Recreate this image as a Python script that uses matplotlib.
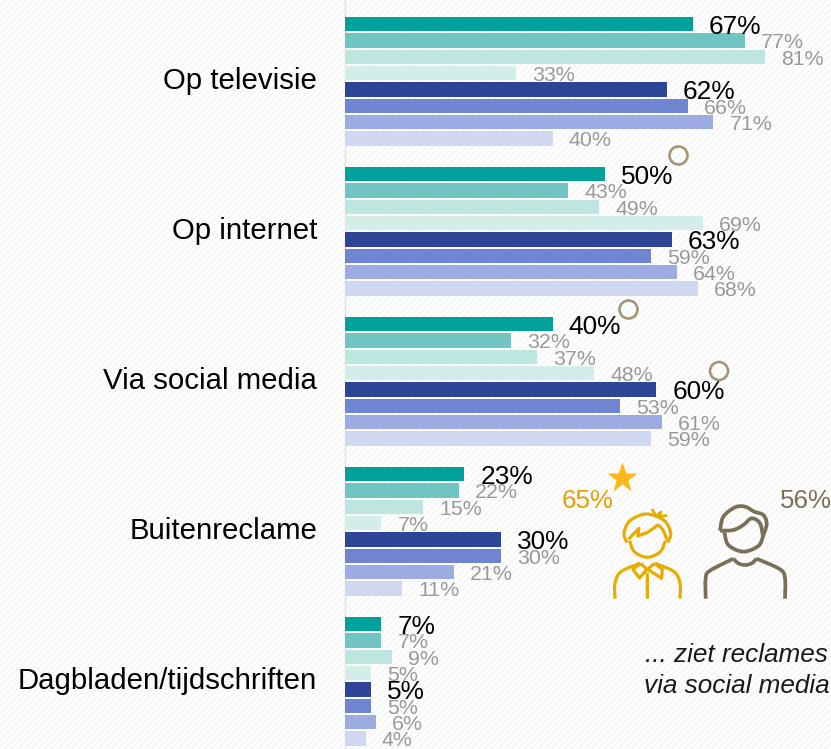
import matplotlib
matplotlib.use("Agg")
import numpy as np
import matplotlib.pyplot as plt
from matplotlib.path import Path
from matplotlib.patches import PathPatch, Circle

plt.rcParams['font.family'] = ['Liberation Sans', 'DejaVu Sans']
plt.rcParams['hatch.linewidth'] = 1.0
plt.rcParams['hatch.color'] = '#f4f4f4'

categories = ["Op televisie", "Op internet", "Via social media", "Buitenreclame", "Dagbladen/tijdschriften"]
op_televisie = [67, 77, 81, 33, 62, 66, 71, 40]
op_internet = [50, 43, 49, 69, 63, 59, 64, 68]
via_social = [40, 32, 37, 48, 60, 53, 61, 59]
buitenreclame = [23, 22, 15, 7, 30, 30, 21, 11]
dagbladen = [7, 7, 9, 5, 5, 5, 6, 4]
groups = [op_televisie, op_internet, via_social, buitenreclame, dagbladen]
bar_colors = ['#00A19A', '#70C5C3', '#BCE6DF', '#D3EDE8', '#2E4595', '#7085D1', '#9CABE1', '#D0D7F0']

W, H = 831, 749
fig = plt.figure(figsize=(W / 100, H / 100), dpi=100)
ax = fig.add_axes([0, 0, 1, 1])
PX = 5.19
ax.set_xlim(-345 / PX, (W - 345) / PX)
ax.set_ylim(H, 0)
ax.axis('off')
fig.patch.set_facecolor('white')

bg = fig.add_axes([0, 0, 1, 1], zorder=-1)
bg.set_xticks([]); bg.set_yticks([])
for s in bg.spines.values():
    s.set_visible(False)
bg.patch.set_facecolor('white')
bg.patch.set_hatch('/////')
bg.patch.set_edgecolor('#f4f4f4')

ax.plot([0, 0], [0, H], color='#e2e2e2', lw=1.0, zorder=1)

STEP = 16.33
for g, vals in enumerate(groups):
    start = 24.3 + g * 150
    ys = [start + j * STEP for j in range(8)]
    ax.barh(ys, vals, height=14.3, color=bar_colors, zorder=2)
    for j, (y, v) in enumerate(zip(ys, vals)):
        main = j in (0, 4)
        ax.annotate(f"{v}%", (v, y), xytext=(11.6, -1.6), textcoords='offset points',
                    ha='left', va='center', fontsize=18.9 if main else 15.4,
                    color='black' if main else '#999999', zorder=5)
    ax.text(-28 / PX, start + 56.5, categories[g], ha='right', va='center',
            fontsize=21.2, color='black', zorder=5)

ov = fig.add_axes([0, 0, 1, 1], zorder=3)
ov.set_xlim(0, W); ov.set_ylim(H, 0); ov.axis('off'); ov.patch.set_alpha(0)

for (cx, cy) in [(678.5, 155.5), (628.5, 309.5), (719, 371)]:
    ov.add_patch(Circle((cx, cy), 9, fill=False, ec='#A39775', lw=1.9))

GOLD = '#E8AC00'
TAUPE = '#7A7058'
ov.plot([622], [478], marker='*', ms=23, color='#FDB71A', mec='none')
ov.text(562, 501, "65%", color='#E0A100', fontsize=18.6, va='center', ha='left')
ov.text(780, 501, "56%", color=TAUPE, fontsize=18.6, va='center', ha='left')


def smooth(points, ox, oy, color, lw, tension=1.0):
    """Decorative stroke through zoom-crop points (rounded Catmull-Rom)."""
    p = np.array(points, float) / 3 + [ox, oy]
    verts = [p[0]]
    codes = [Path.MOVETO]
    for i in range(len(p) - 1):
        p0 = p[max(i - 1, 0)]; p1 = p[i]; p2 = p[i + 1]; p3 = p[min(i + 2, len(p) - 1)]
        verts += [p1 + (p2 - p0) / 6 * tension, p2 - (p3 - p1) / 6 * tension, p2]
        codes += [Path.CURVE4] * 3
    ov.add_patch(PathPatch(Path(verts, codes), fill=False, ec=color, lw=lw,
                           capstyle='butt', joinstyle='round'))


def poly(points, ox, oy, color, lw):
    smooth(points, ox, oy, color, lw, tension=0.0)


# gold man
GX, GY, GW = 605, 500, 2.3
smooth([(66, 128), (57, 100), (75, 62), (125, 42), (178, 62), (197, 100), (188, 128)], GX, GY, GOLD, GW)
smooth([(74, 122), (88, 155), (127, 172), (166, 155), (181, 122)], GX, GY, GOLD, GW)
poly([(70, 118), (102, 85), (98, 108), (128, 97), (160, 74)], GX, GY, GOLD, GW)
smooth([(160, 74), (175, 92), (186, 120)], GX, GY, GOLD, GW)
poly([(141, 27), (153, 48), (168, 36), (160, 50), (187, 46)], GX, GY, GOLD, GW * 0.85)
smooth([(30, 296), (30, 250), (48, 215), (105, 190)], GX, GY, GOLD, GW)
smooth([(225, 296), (225, 250), (207, 215), (150, 190)], GX, GY, GOLD, GW)
poly([(106, 190), (84, 208), (103, 234), (126, 208), (106, 190)], GX, GY, GOLD, GW)
poly([(148, 190), (128, 208), (170, 235), (172, 208), (148, 190)], GX, GY, GOLD, GW)
poly([(127, 218), (127, 296)], GX, GY, GOLD, GW)

# taupe man
TX, TY, TW = 695, 500, 2.7
smooth([(75, 92), (85, 50), (120, 22), (150, 20), (178, 35), (205, 45), (215, 72), (203, 112)], TX, TY, TAUPE, TW)
smooth([(75, 92), (115, 90), (145, 75), (170, 55), (195, 70), (204, 110)], TX, TY, TAUPE, TW)
smooth([(88, 95), (100, 135), (145, 155), (190, 138), (204, 110)], TX, TY, TAUPE, TW)
smooth([(32, 296), (32, 235), (45, 212), (115, 176)], TX, TY, TAUPE, TW)
smooth([(115, 176), (130, 190), (150, 195), (170, 190), (185, 176)], TX, TY, TAUPE, TW)
smooth([(185, 176), (255, 208), (270, 235), (270, 296)], TX, TY, TAUPE, TW)

ov.text(828, 655, "... ziet reclames", style='italic', fontsize=18.8, ha='right', va='center', color='#1a1a1a')
ov.text(830, 686, "via social media", style='italic', fontsize=18.8, ha='right', va='center', color='#1a1a1a')

fig.savefig("out.png", dpi=100)
